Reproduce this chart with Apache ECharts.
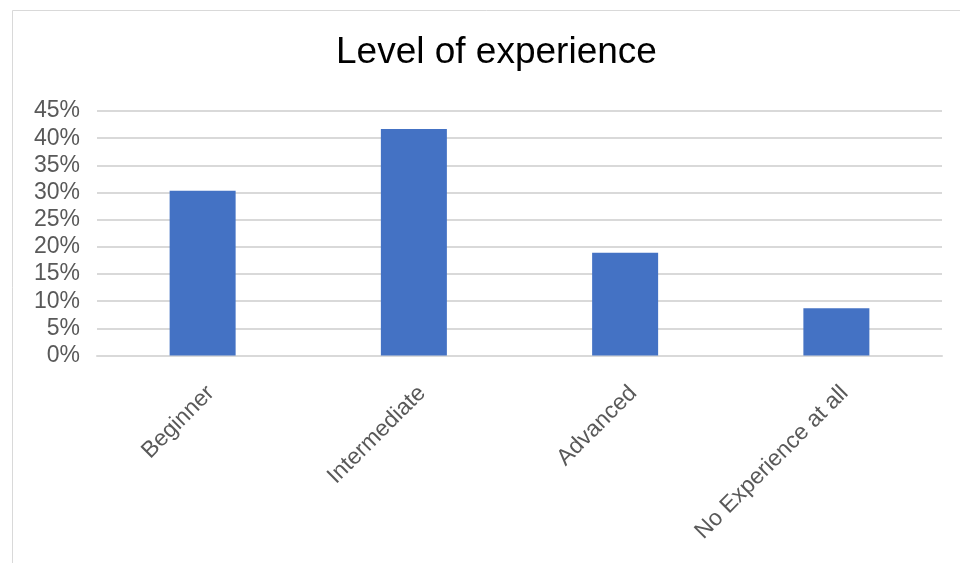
<!DOCTYPE html>
<html>
<head>
<meta charset="utf-8">
<script src="https://cdn.jsdelivr.net/npm/echarts@6/dist/echarts.min.js"></script>
<style>html,body{margin:0;padding:0;background:#fff;}#c{width:960px;height:563px;}</style>
</head>
<body>
<div id="c"></div>
<script>
var categories = ['Beginner', 'Intermediate', 'Advanced', 'No Experience at all'];
var values = [0.303, 0.417, 0.189, 0.087];
var yTicks = [0, 0.05, 0.10, 0.15, 0.20, 0.25, 0.30, 0.35, 0.40, 0.45];

var chart = echarts.init(document.getElementById('c'), null, {renderer: 'canvas'});
chart.setOption({
  animation: false,
  backgroundColor: '#fff',
  graphic: [{
    type: 'rect', left: 10, top: 8, shape: {width: 980, height: 600},
    style: {fill: 'none', stroke: '#d9d9d9', lineWidth: 1}, silent: true, z: -1
  }],
  title: {
    text: 'Level of experience', left: 331, top: 29,
    textStyle: {fontFamily: 'Liberation Sans, Arial, sans-serif', fontSize: 37, fontWeight: 'normal', color: '#000'}
  },
  grid: {left: 97, right: 18, top: 111, bottom: 207.5, containLabel: false},
  xAxis: {
    type: 'category', data: categories,
    axisLine: {show: true, lineStyle: {color: '#d9d9d9', width: 2}},
    axisTick: {show: false},
    axisLabel: {rotate: 45, margin: 26, interval: 0, verticalAlign: 'top', color: '#595959', fontSize: 23, fontFamily: 'Liberation Sans, Arial, sans-serif'}
  },
  yAxis: {
    type: 'value', min: yTicks[0], max: yTicks[yTicks.length - 1], interval: 0.05,
    axisLine: {show: false}, axisTick: {show: false},
    splitLine: {lineStyle: {color: '#d9d9d9', width: 2}},
    axisLabel: {margin: 17, color: '#595959', fontSize: 23, fontFamily: 'Liberation Sans, Arial, sans-serif',
      formatter: function (v) { return Math.round(v * 100) + '%'; }}
  },
  series: [{
    type: 'bar', data: values, barWidth: 66,
    itemStyle: {color: '#4472C4'}
  }]
});
</script>
</body>
</html>
